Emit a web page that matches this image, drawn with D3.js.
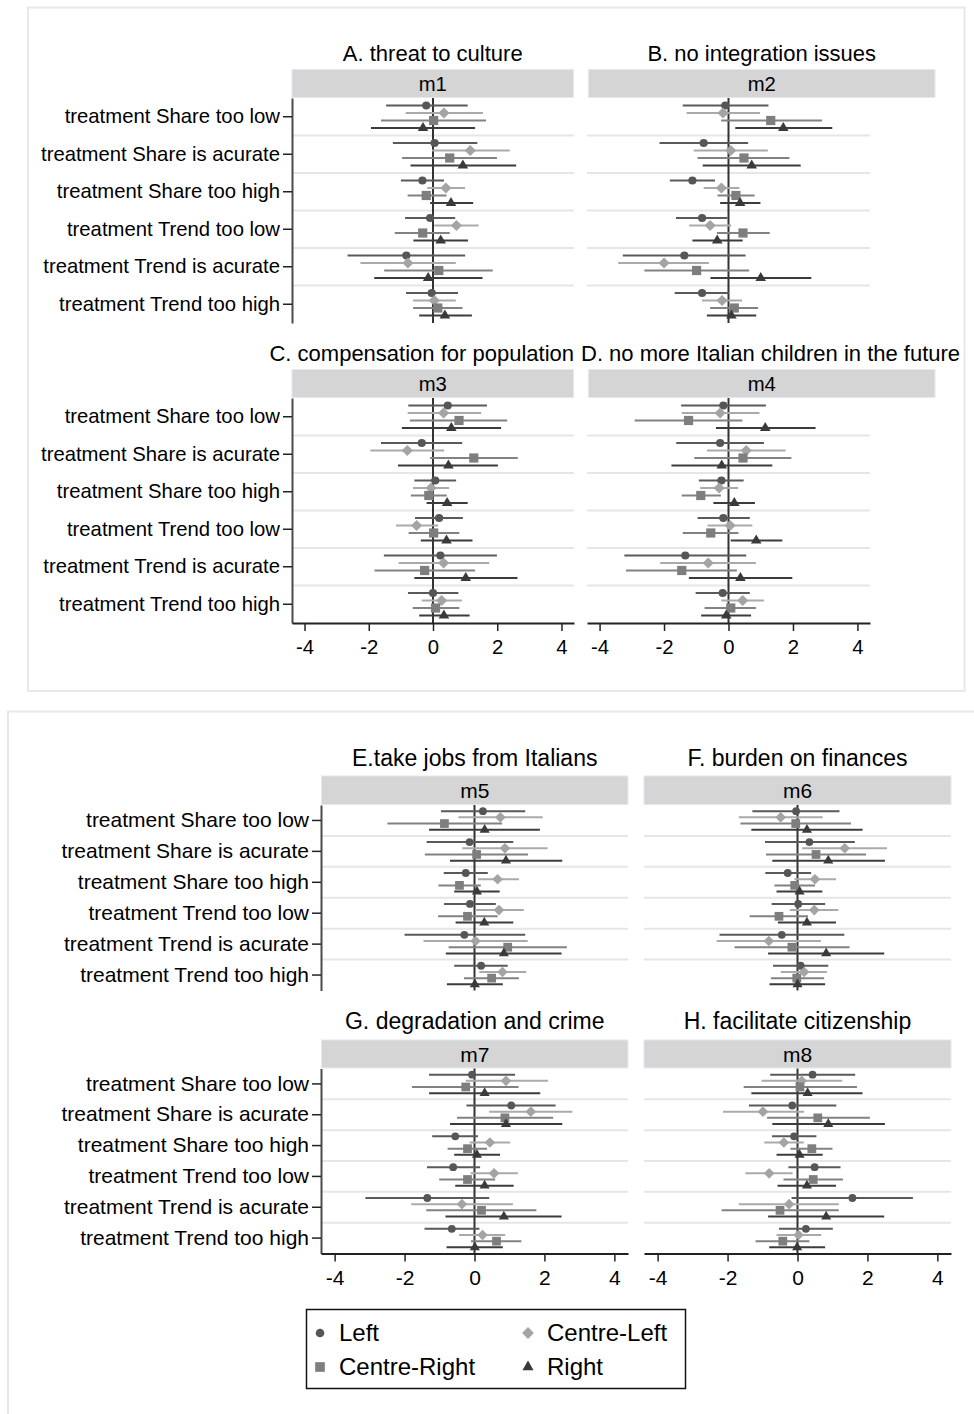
<!DOCTYPE html>
<html>
<head>
<meta charset="utf-8">
<script src="https://cdn.jsdelivr.net/npm/d3@7"></script>
<style>
  body { margin: 0; background: #fff; }
  svg { display: block; }
  text { font-family: "Liberation Sans", Arial, sans-serif; fill: #000; }
</style>
</head>
<body>
<svg id="chart" width="974" height="1414"></svg>
<script>
// ---- data -------------------------------------------------------------
const categories = [
  "treatment Share too low",
  "treatment Share is acurate",
  "treatment Share too high",
  "treatment Trend too low",
  "treatment Trend is acurate",
  "treatment Trend too high"
];
const seriesNames = ["Left", "Centre-Left", "Centre-Right", "Right"];
const panelTitles = [
  "A. threat to culture",
  "B. no integration issues",
  "C. compensation for population",
  "D. no more Italian children in the future",
  "E.take jobs from Italians",
  "F. burden on finances",
  "G. degradation and crime",
  "H. facilitate citizenship"
];
const modelNames = ["m1", "m2", "m3", "m4", "m5", "m6", "m7", "m8"];
const xTicks = [-4, -2, 0, 2, 4];

// each row = one treatment; each entry = [estimate, lower CI, upper CI]
// for Left, Centre-Left, Centre-Right, Right
const m1 = [
  [[-0.21,-1.46,1.08],[0.34,-0.85,1.56],[0.02,-1.62,1.65],[-0.31,-1.93,1.31]],
  [[0.05,-1.25,1.38],[1.16,-0.03,2.39],[0.52,-0.96,1.99],[0.93,-0.70,2.59]],
  [[-0.33,-1.00,0.34],[0.40,-0.18,1.00],[-0.21,-0.79,0.42],[0.56,-0.09,1.25]],
  [[-0.09,-0.87,0.69],[0.73,0.04,1.42],[-0.32,-1.19,0.52],[0.24,-0.61,1.09]],
  [[-0.83,-2.66,1.00],[-0.78,-2.26,0.71],[0.18,-1.52,1.86],[-0.15,-1.83,1.54]],
  [[-0.04,-0.84,0.78],[0.04,-0.62,0.71],[0.15,-0.62,0.92],[0.37,-0.43,1.21]]
];
const m2 = [
  [[-0.10,-1.42,1.24],[-0.17,-1.30,0.98],[1.31,-0.23,2.90],[1.70,0.21,3.22]],
  [[-0.77,-2.14,0.61],[0.07,-1.08,1.22],[0.48,-0.96,1.89],[0.72,-0.80,2.24]],
  [[-1.12,-1.82,-0.42],[-0.22,-0.77,0.34],[0.23,-0.34,0.81],[0.36,-0.26,0.99]],
  [[-0.82,-1.63,-0.03],[-0.57,-1.22,0.08],[0.45,-0.36,1.28],[-0.35,-1.12,0.44]],
  [[-1.37,-3.28,0.53],[-2.00,-3.42,-0.61],[-0.99,-2.61,0.64],[1.00,-0.56,2.57]],
  [[-0.82,-1.67,0.02],[-0.20,-0.82,0.42],[0.18,-0.57,0.92],[0.09,-0.67,0.86]]
];
const m3 = [
  [[0.46,-0.77,1.68],[0.33,-0.79,1.50],[0.81,-0.72,2.31],[0.57,-0.97,2.12]],
  [[-0.35,-1.62,0.91],[-0.80,-1.95,0.35],[1.27,-0.09,2.64],[0.48,-1.09,2.02]],
  [[0.07,-0.58,0.72],[-0.06,-0.62,0.50],[-0.13,-0.69,0.43],[0.44,-0.20,1.08]],
  [[0.19,-0.56,0.93],[-0.51,-1.15,0.16],[0.02,-0.76,0.82],[0.42,-0.38,1.23]],
  [[0.23,-1.53,1.99],[0.33,-1.07,1.75],[-0.26,-1.82,1.31],[1.02,-0.58,2.63]],
  [[0.00,-0.78,0.79],[0.27,-0.35,0.90],[0.08,-0.63,0.82],[0.34,-0.43,1.14]]
];
const m4 = [
  [[-0.16,-1.47,1.16],[-0.26,-1.45,0.96],[-1.24,-2.91,0.43],[1.14,-0.39,2.70]],
  [[-0.26,-1.62,1.10],[0.55,-0.67,1.77],[0.45,-1.06,1.95],[-0.21,-1.77,1.36]],
  [[-0.22,-0.92,0.47],[-0.29,-0.88,0.30],[-0.86,-1.45,-0.24],[0.18,-0.47,0.82]],
  [[-0.16,-0.96,0.66],[0.05,-0.65,0.74],[-0.55,-1.42,0.31],[0.86,0.07,1.67]],
  [[-1.34,-3.23,0.55],[-0.63,-2.12,0.85],[-1.45,-3.18,0.26],[0.37,-1.23,1.98]],
  [[-0.18,-1.02,0.66],[0.44,-0.22,1.10],[0.07,-0.74,0.85],[-0.07,-0.85,0.70]]
];
const m5 = [
  [[0.24,-0.96,1.45],[0.74,-0.46,1.95],[-0.86,-2.49,0.79],[0.29,-1.30,1.87]],
  [[-0.14,-1.37,1.11],[0.87,-0.35,2.09],[0.06,-1.42,1.53],[0.90,-0.70,2.51]],
  [[-0.25,-0.88,0.38],[0.66,0.10,1.27],[-0.43,-1.03,0.18],[0.07,-0.58,0.72]],
  [[-0.13,-0.87,0.61],[0.70,0.02,1.41],[-0.20,-1.04,0.66],[0.28,-0.54,1.11]],
  [[-0.29,-2.00,1.45],[0.03,-1.46,1.52],[0.95,-0.74,2.64],[0.84,-0.82,2.49]],
  [[0.19,-0.58,0.95],[0.80,0.14,1.48],[0.49,-0.30,1.27],[0.01,-0.79,0.81]]
];
const m6 = [
  [[-0.04,-1.29,1.20],[-0.48,-1.68,0.72],[-0.05,-1.63,1.53],[0.27,-1.32,1.86]],
  [[0.34,-0.93,1.64],[1.35,0.13,2.56],[0.53,-0.90,1.96],[0.88,-0.72,2.50]],
  [[-0.28,-0.92,0.39],[0.50,-0.09,1.10],[-0.08,-0.66,0.50],[0.06,-0.60,0.71]],
  [[0.02,-0.74,0.79],[0.48,-0.22,1.17],[-0.53,-1.37,0.30],[0.27,-0.56,1.10]],
  [[-0.45,-2.23,1.34],[-0.82,-2.31,0.67],[-0.16,-1.80,1.49],[0.82,-0.84,2.48]],
  [[0.09,-0.70,0.88],[0.19,-0.48,0.84],[-0.02,-0.76,0.76],[0.00,-0.80,0.79]]
];
const m7 = [
  [[-0.07,-1.30,1.16],[0.90,-0.25,2.10],[-0.25,-1.79,1.26],[0.29,-1.30,1.88]],
  [[1.05,-0.23,2.32],[1.61,0.42,2.80],[0.87,-0.50,2.25],[0.90,-0.70,2.51]],
  [[-0.55,-1.21,0.10],[0.44,-0.14,1.02],[-0.20,-0.77,0.36],[0.07,-0.58,0.73]],
  [[-0.61,-1.36,0.16],[0.56,-0.11,1.24],[-0.20,-1.01,0.59],[0.29,-0.55,1.12]],
  [[-1.35,-3.12,0.42],[-0.36,-1.81,1.10],[0.20,-1.38,1.77],[0.84,-0.83,2.49]],
  [[-0.65,-1.43,0.14],[0.23,-0.44,0.88],[0.63,-0.10,1.34],[0.01,-0.80,0.81]]
];
const m8 = [
  [[0.43,-0.78,1.65],[0.12,-1.03,1.28],[0.07,-1.54,1.70],[0.29,-1.32,1.86]],
  [[-0.15,-1.39,1.11],[-0.99,-2.13,0.19],[0.58,-0.87,2.07],[0.88,-0.72,2.50]],
  [[-0.10,-0.73,0.54],[-0.39,-0.95,0.18],[0.41,-0.20,1.00],[0.06,-0.60,0.72]],
  [[0.49,-0.26,1.23],[-0.81,-1.49,-0.14],[0.45,-0.40,1.30],[0.27,-0.57,1.10]],
  [[1.57,-0.17,3.30],[-0.24,-1.68,1.18],[-0.50,-2.17,1.18],[0.82,-0.84,2.48]],
  [[0.24,-0.53,1.01],[0.03,-0.60,0.68],[-0.42,-1.20,0.34],[-0.01,-0.81,0.79]]
];
const models = [m1, m2, m3, m4, m5, m6, m7, m8];

// ---- styling ----------------------------------------------------------
const markerColor = { "Left": "#565656", "Centre-Left": "#a4a4a4", "Centre-Right": "#7e7e7e", "Right": "#3a3a3a" };
const lineColor   = { "Left": "#5a5a5a", "Centre-Left": "#aaaaaa", "Centre-Right": "#828282", "Right": "#3c3c3c" };

function markerPath(name, s) {
  if (name === "Left") return d3.symbol(d3.symbolCircle, Math.PI * Math.pow(4.1 * s, 2))();
  if (name === "Centre-Left") { const r = 5.6 * s; return `M0,${-r}L${r},0L0,${r}L${-r},0Z`; }
  if (name === "Centre-Right") return d3.symbol(d3.symbolSquare, Math.pow(9.2 * s, 2))();
  return d3.symbol(d3.symbolTriangle, Math.sqrt(3) / 4 * Math.pow(10.6 * s, 2))();
}

const svg = d3.select("#chart");

// two stacked figures, each a 2x2 grid of panels
const figures = [
  {
    frame: { x: 28, y: 7.5, w: 936.5, h: 683.5 },
    cols: [[292, 574], [587, 870]],
    strips: [[292, 573.5], [588.5, 935]], split: 577,
    rows: [
      { stripTop: 69.5, plotTop: 98, plotBottom: 323, titleY: 61 },
      { stripTop: 369.5, plotTop: 398, plotBottom: 623, titleY: 361 }
    ],
    titleSize: 22, labelSize: 20.3, scale: 1,
    panels: [0, 1, 2, 3]
  },
  {
    frame: { x: 8, y: 711.5, w: 980, h: 720 },
    cols: [[321, 628], [644, 951]],
    strips: [[321.5, 628], [644, 951]], split: 636,
    rows: [
      { stripTop: 776, plotTop: 805, plotBottom: 990.5, titleY: 766 },
      { stripTop: 1040, plotTop: 1068.5, plotBottom: 1253.5, titleY: 1029 }
    ],
    titleSize: 23, labelSize: 21, scale: 0.95,
    panels: [4, 5, 6, 7]
  }
];

figures.forEach(fig => {
  svg.append("rect")
    .attr("x", fig.frame.x).attr("y", fig.frame.y)
    .attr("width", fig.frame.w).attr("height", fig.frame.h)
    .attr("fill", "none").attr("stroke", "#e8e8e8").attr("stroke-width", 2);

  fig.panels.forEach((pi, k) => {
    const col = k % 2, row = Math.floor(k / 2);
    const [x0, x1] = fig.cols[col];
    const [s0, s1] = fig.strips[col];
    const r = fig.rows[row];
    const x = d3.scaleLinear().domain([-4.39, 4.39]).range([x0, x1]);
    const y = d3.scaleBand().domain(categories).range([r.plotTop, r.plotBottom]);
    const bw = y.bandwidth();
    const off = d3.scalePoint().domain(seriesNames).range([-0.3 * bw, 0.3 * bw]);
    const g = svg.append("g");

    // panel title over the strip, kept inside its column
    const cx0 = (s0 + s1) / 2;
    const title = g.append("text")
      .attr("x", cx0).attr("y", r.titleY).attr("text-anchor", "middle")
      .style("font-size", fig.titleSize + "px").text(panelTitles[pi]);
    const w = title.node().getComputedTextLength();
    let cx = cx0;
    if (col === 0 && cx + w / 2 > fig.split - 3) cx = fig.split - 3 - w / 2;
    if (col === 1 && cx - w / 2 < fig.split + 4) cx = fig.split + 4 + w / 2;
    title.attr("x", cx);

    // strip with model name
    g.append("rect")
      .attr("x", s0).attr("y", r.stripTop)
      .attr("width", s1 - s0).attr("height", r.plotTop - r.stripTop - 0.5)
      .attr("fill", "#d5d5d5").attr("stroke", "#e2eaf0").attr("stroke-width", 1);
    g.append("text")
      .attr("x", cx0).attr("y", (r.stripTop + r.plotTop) / 2)
      .attr("dy", "0.35em").attr("text-anchor", "middle")
      .style("font-size", fig.labelSize + "px").text(modelNames[pi]);

    // separators between treatments
    g.selectAll("line.sep").data(categories.slice(1)).join("line")
      .attr("class", "sep")
      .attr("x1", x0).attr("x2", x1)
      .attr("y1", d => y(d)).attr("y2", d => y(d))
      .attr("stroke", "#e6e6e6").attr("stroke-width", 2);

    // zero reference line
    g.append("line")
      .attr("x1", x(0)).attr("x2", x(0))
      .attr("y1", r.plotTop).attr("y2", r.plotBottom)
      .attr("stroke", "#333").attr("stroke-width", 2);

    // flatten estimates
    const pts = [];
    models[pi].forEach((rowVals, ci) => {
      rowVals.forEach((v, si) => {
        pts.push({ cat: categories[ci], s: seriesNames[si], est: v[0], lo: v[1], hi: v[2] });
      });
    });
    const yp = d => y(d.cat) + bw / 2 + off(d.s);

    g.selectAll("line.ci").data(pts).join("line")
      .attr("class", "ci")
      .attr("x1", d => x(d.lo)).attr("x2", d => x(d.hi))
      .attr("y1", yp).attr("y2", yp)
      .attr("stroke", d => lineColor[d.s]).attr("stroke-width", 2);

    g.selectAll("path.mk").data(pts).join("path")
      .attr("class", "mk")
      .attr("transform", d => `translate(${x(d.est)},${yp(d)})`)
      .attr("d", d => markerPath(d.s, fig.scale))
      .attr("fill", d => markerColor[d.s]);

    // y axis on the left column only
    if (col === 0) {
      const ya = g.append("g").attr("transform", `translate(${x0},0)`)
        .call(d3.axisLeft(y).tickSize(9).tickPadding(3).tickSizeOuter(0));
      ya.attr("font-family", null).attr("font-size", null);
      ya.selectAll("text").style("font-size", fig.labelSize + "px");
      ya.select(".domain").attr("stroke", "#4a4a4a").attr("stroke-width", 2);
      ya.selectAll(".tick line").attr("stroke", "#222").attr("stroke-width", 1.5);
    }
    // x axis on the bottom row only
    if (row === 1) {
      const xa = g.append("g").attr("transform", `translate(0,${r.plotBottom})`)
        .call(d3.axisBottom(x).tickValues(xTicks).tickFormat(d => String(d))
          .tickSize(8).tickPadding(9).tickSizeOuter(0));
      xa.attr("font-family", null).attr("font-size", null);
      xa.selectAll("text").style("font-size", fig.labelSize + "px");
      xa.select(".domain").attr("stroke", "#222").attr("stroke-width", 2);
      xa.selectAll(".tick line").attr("stroke", "#222").attr("stroke-width", 1.5);
    }
  });
});

// ---- legend -----------------------------------------------------------
const lg = svg.append("g");
lg.append("rect").attr("x", 306.5).attr("y", 1309.5).attr("width", 379).attr("height", 79)
  .attr("fill", "#fff").attr("stroke", "#111").attr("stroke-width", 1.5);
const legendX = [320, 528], legendTextX = [339, 547], legendY = [1333, 1367];
seriesNames.forEach((s, i) => {
  const c = i % 2, rr = Math.floor(i / 2);
  lg.append("path")
    .attr("transform", `translate(${legendX[c]},${legendY[rr]})`)
    .attr("d", markerPath(s, 1.05))
    .attr("fill", markerColor[s]);
  lg.append("text")
    .attr("x", legendTextX[c]).attr("y", legendY[rr]).attr("dy", "0.35em")
    .style("font-size", "24px").text(s);
});
</script>
</body>
</html>
